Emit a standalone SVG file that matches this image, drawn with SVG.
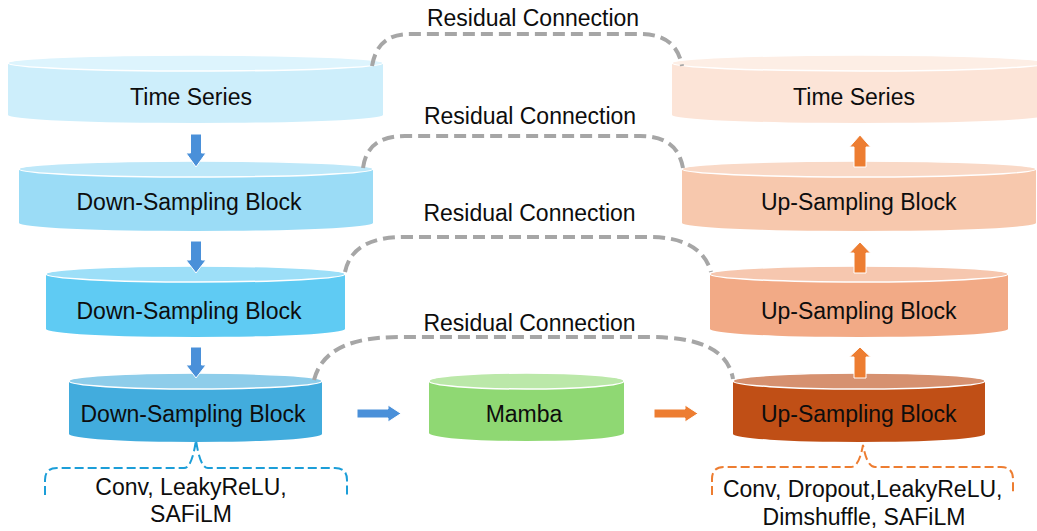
<svg xmlns="http://www.w3.org/2000/svg" width="1037" height="531" viewBox="0 0 1037 531">
<style>
text{font-family:"Liberation Sans",Arial,sans-serif;font-size:23px;fill:#0d0d0d;text-anchor:middle}
.top{stroke:#fff;stroke-width:1.5}
.res{fill:none;stroke:#a6a6a6;stroke-width:4;stroke-dasharray:12 6}
.brB{fill:none;stroke:#1c9ed8;stroke-width:2;stroke-dasharray:9 4}
.brO{fill:none;stroke:#ed7d31;stroke-width:2;stroke-dasharray:9 4}
.arB{fill:#4a90d9;stroke:#fff;stroke-width:1}
.arO{fill:#ed7d31;stroke:#fff;stroke-width:1}
</style>
<rect width="1037" height="531" fill="#fff"/>

<g id="enc-ts">
<path d="M8,63 L8,115 A187.5,8 0 0 0 383,115 L383,63 Z" fill="#cdeefb"/>
<ellipse class="top" cx="195.5" cy="63" rx="187.5" ry="8" fill="#ddf4fd"/>
<text x="191" y="105">Time Series</text>
</g>
<g id="down1">
<path d="M19,169 L19,223 A177,8 0 0 0 373,223 L373,169 Z" fill="#9bdcf6"/>
<ellipse class="top" cx="196" cy="169" rx="177" ry="8" fill="#bee8f9"/>
<text x="189" y="210">Down-Sampling Block</text>
</g>
<g id="down2">
<path d="M46,274 L46,329 A149.5,8 0 0 0 345,329 L345,274 Z" fill="#5fcbf3"/>
<ellipse class="top" cx="195.5" cy="274" rx="149.5" ry="8" fill="#9ddff8"/>
<text x="189" y="319">Down-Sampling Block</text>
</g>
<g id="down3">
<path d="M69,381 L69,434 A126.5,8 0 0 0 322,434 L322,381 Z" fill="#42acdd"/>
<ellipse class="top" cx="195.5" cy="381" rx="126.5" ry="8" fill="#8ecdea"/>
<text x="193" y="422">Down-Sampling Block</text>
</g>
<g id="mamba">
<path d="M429,381 L429,433 A97.5,8 0 0 0 624,433 L624,381 Z" fill="#8fd873"/>
<ellipse class="top" cx="526.5" cy="381" rx="97.5" ry="8" fill="#bbe8a9"/>
<text x="524" y="422">Mamba</text>
</g>
<g id="dec-ts">
<path d="M672,63 L672,115 A187.5,8 0 0 0 1047,115 L1047,63 Z" fill="#fce4d7"/>
<ellipse class="top" cx="859.5" cy="63" rx="187.5" ry="8" fill="#fdeee5"/>
<text x="854" y="105">Time Series</text>
</g>
<g id="up1">
<path d="M682,169 L682,223 A177,8 0 0 0 1036,223 L1036,169 Z" fill="#f7c8ad"/>
<ellipse class="top" cx="859" cy="169" rx="177" ry="8" fill="#f9d9c7"/>
<text x="858.7" y="210">Up-Sampling Block</text>
</g>
<g id="up2">
<path d="M710,274 L710,329 A149,8 0 0 0 1008,329 L1008,274 Z" fill="#f2aa86"/>
<ellipse class="top" cx="859" cy="274" rx="149" ry="8" fill="#f6c7af"/>
<text x="858.7" y="319">Up-Sampling Block</text>
</g>
<g id="up3">
<path d="M733,381 L733,434 A126,8 0 0 0 985,434 L985,381 Z" fill="#c04f16"/>
<ellipse class="top" cx="859" cy="381" rx="126" ry="8" fill="#d69170"/>
<text x="858.7" y="422">Up-Sampling Block</text>
</g>

<g id="enc-note">
<path class="brB" d="M45,495 L45,480 Q45,468 57,468 L184,468 Q192,468 196,440 Q200,468 208,468 L335,468 Q347,468 347,480 L347,495"/>
<text x="191" y="495">Conv, LeakyReLU,</text>
<text x="191" y="522">SAFiLM</text>
</g>
<g id="dec-note">
<path class="brO" d="M712,495 L712,479 Q712,467 724,467 L851,467 Q859,467 863,445 Q867,467 875,467 L1001,467 Q1013,467 1013,479 L1013,495"/>
<text x="862.7" y="497">Conv, Dropout,LeakyReLU,</text>
<text x="864" y="525">Dimshuffle, SAFiLM</text>
</g>

<g id="connectors">
<path class="res" d="M372,66 C376,44 388,34 410,34 L640,34 C664,34 678,44 682,66"/>
<path class="res" d="M363,168 C366,146 380,136 405,136 L640,136 C665,136 679,146 683,168"/>
<path class="res" d="M345,272 C350,248 370,237 405,237 L650,237 C685,237 705,250 711,272"/>
<path class="res" d="M314,380 C322,350 350,337 400,337 L650,337 C700,337 728,350 733,379"/>
<text x="533" y="26">Residual Connection</text>
<text x="530" y="124">Residual Connection</text>
<text x="529.5" y="221">Residual Connection</text>
<text x="529.5" y="331">Residual Connection</text>

<polygon class="arB" points="190.5,134 201.5,134 201.5,153 206,153 196,167 186,153 190.5,153"/>
<polygon class="arB" points="190.5,241 201.5,241 201.5,260 206,260 196,273 186,260 190.5,260"/>
<polygon class="arB" points="190.5,347 201.5,347 201.5,365 206,365 196,378 186,365 190.5,365"/>
<polygon class="arB" points="357,409 388,409 388,405 401,413.5 388,422 388,418 357,418"/>
<polygon class="arO" points="654,409 685,409 685,405 698,413.5 685,422 685,418 654,418"/>
<polygon class="arO" points="854,167 866,167 866,147 870.5,147 860,135 849.5,147 854,147"/>
<polygon class="arO" points="854,273 866,273 866,253 870.5,253 860,242 849.5,253 854,253"/>
<polygon class="arO" points="854,378 866,378 866,357 870.5,357 860,347 849.5,357 854,357"/>
</g>
</svg>
